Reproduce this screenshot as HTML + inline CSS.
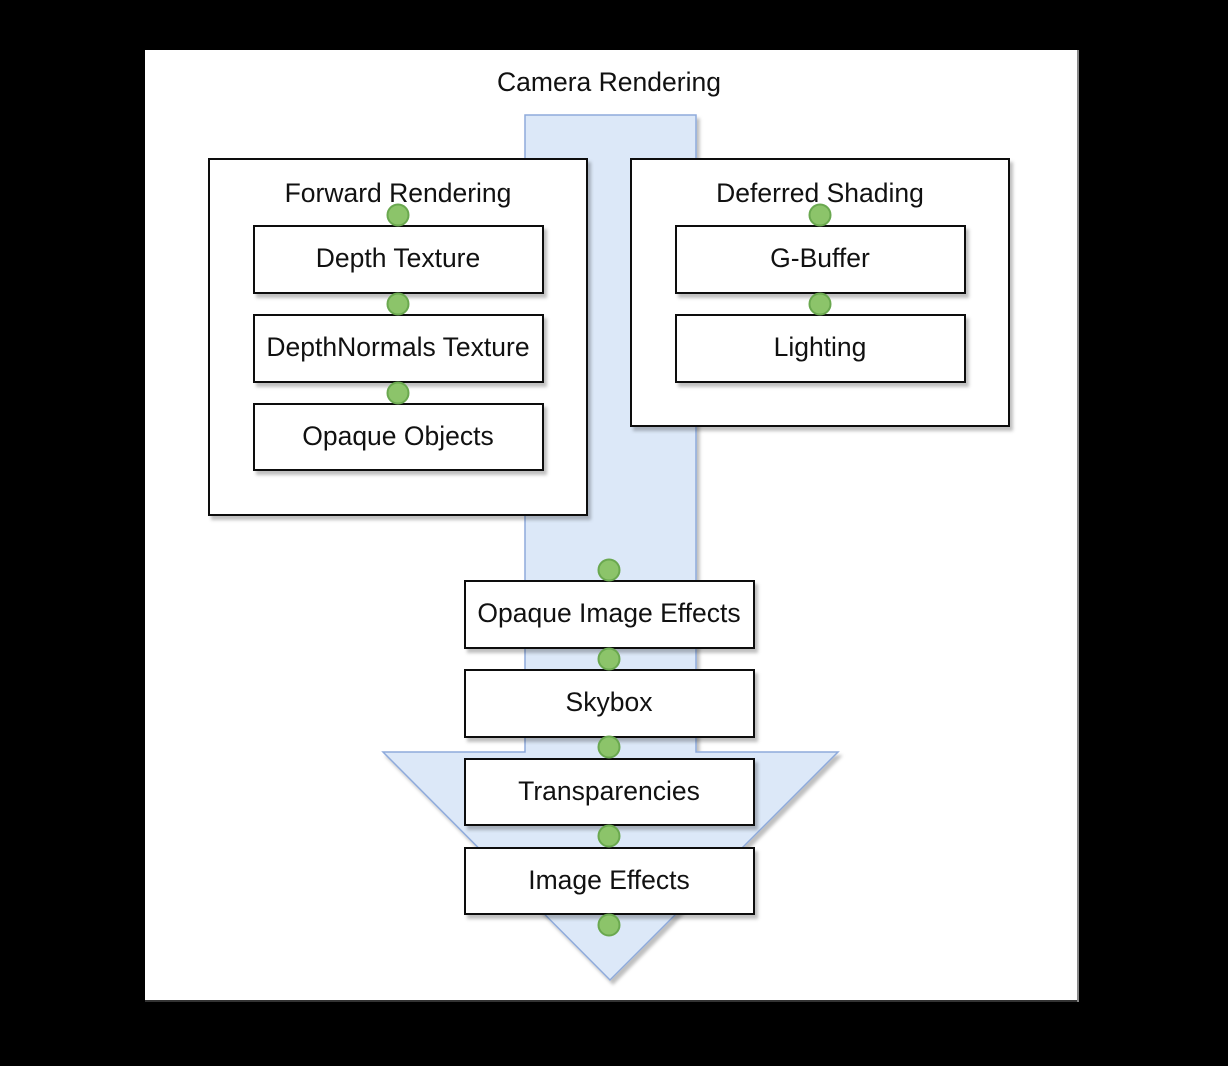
<!DOCTYPE html>
<html><head><style>
body{margin:0;background:#000;width:1228px;height:1066px;overflow:hidden;font-family:"Liberation Sans",sans-serif}
</style></head><body>
<svg width="1228" height="1066" xmlns="http://www.w3.org/2000/svg" style="position:absolute;left:0;top:0">
<defs><filter id="s" x="-10%" y="-10%" width="130%" height="130%"><feDropShadow dx="3" dy="4" stdDeviation="1.5" flood-color="#000" flood-opacity="0.25"/></filter></defs>
<rect x="0" y="0" width="1228" height="1066" fill="#000"/>
<rect x="145" y="50" width="934" height="952" fill="#fff"/>
<line x1="145" y1="1001" x2="1079" y2="1001" stroke="#333" stroke-width="2"/>
<line x1="1078" y1="50" x2="1078" y2="1002" stroke="#888" stroke-width="2"/>
<text x="609" y="91" font-size="26.5" text-anchor="middle" fill="#111">Camera Rendering</text>
<polygon points="525,115 696,115 696,752 838,752 610,980 383,752 525,752" fill="#dce8f8" stroke="#8eaadb" stroke-width="1.5" filter="url(#s)"/>
<g fill="#fff" stroke="#111" stroke-width="2" filter="url(#s)">
<rect x="209" y="159" width="378" height="356"/>
<rect x="631" y="159" width="378" height="267"/>
</g>
<g fill="#fff" stroke="#111" stroke-width="2" filter="url(#s)">
<rect x="254" y="226" width="289" height="67"/>
<rect x="254" y="315" width="289" height="67"/>
<rect x="254" y="404" width="289" height="66"/>
<rect x="676" y="226" width="289" height="67"/>
<rect x="676" y="315" width="289" height="67"/>
<rect x="465" y="581" width="289" height="67"/>
<rect x="465" y="670" width="289" height="67"/>
<rect x="465" y="759" width="289" height="66"/>
<rect x="465" y="848" width="289" height="66"/>
</g>
<g font-size="26.5" text-anchor="middle" fill="#111">
<text x="398" y="202">Forward Rendering</text>
<text x="820" y="202">Deferred Shading</text>
<text x="398" y="267">Depth Texture</text>
<text x="398" y="356">DepthNormals Texture</text>
<text x="398" y="445">Opaque Objects</text>
<text x="820" y="267">G-Buffer</text>
<text x="820" y="356">Lighting</text>
<text x="609" y="622">Opaque Image Effects</text>
<text x="609" y="711">Skybox</text>
<text x="609" y="800">Transparencies</text>
<text x="609" y="889">Image Effects</text>
</g>
<g fill="#8cc46a" stroke="#6aa84f" stroke-width="2">
<circle cx="398" cy="215" r="10.5"/><circle cx="398" cy="304" r="10.5"/><circle cx="398" cy="393" r="10.5"/>
<circle cx="820" cy="215" r="10.5"/><circle cx="820" cy="304" r="10.5"/>
<circle cx="609" cy="570" r="10.5"/><circle cx="609" cy="659" r="10.5"/><circle cx="609" cy="747" r="10.5"/><circle cx="609" cy="836" r="10.5"/><circle cx="609" cy="925" r="10.5"/>
</g>
</svg>
</body></html>
